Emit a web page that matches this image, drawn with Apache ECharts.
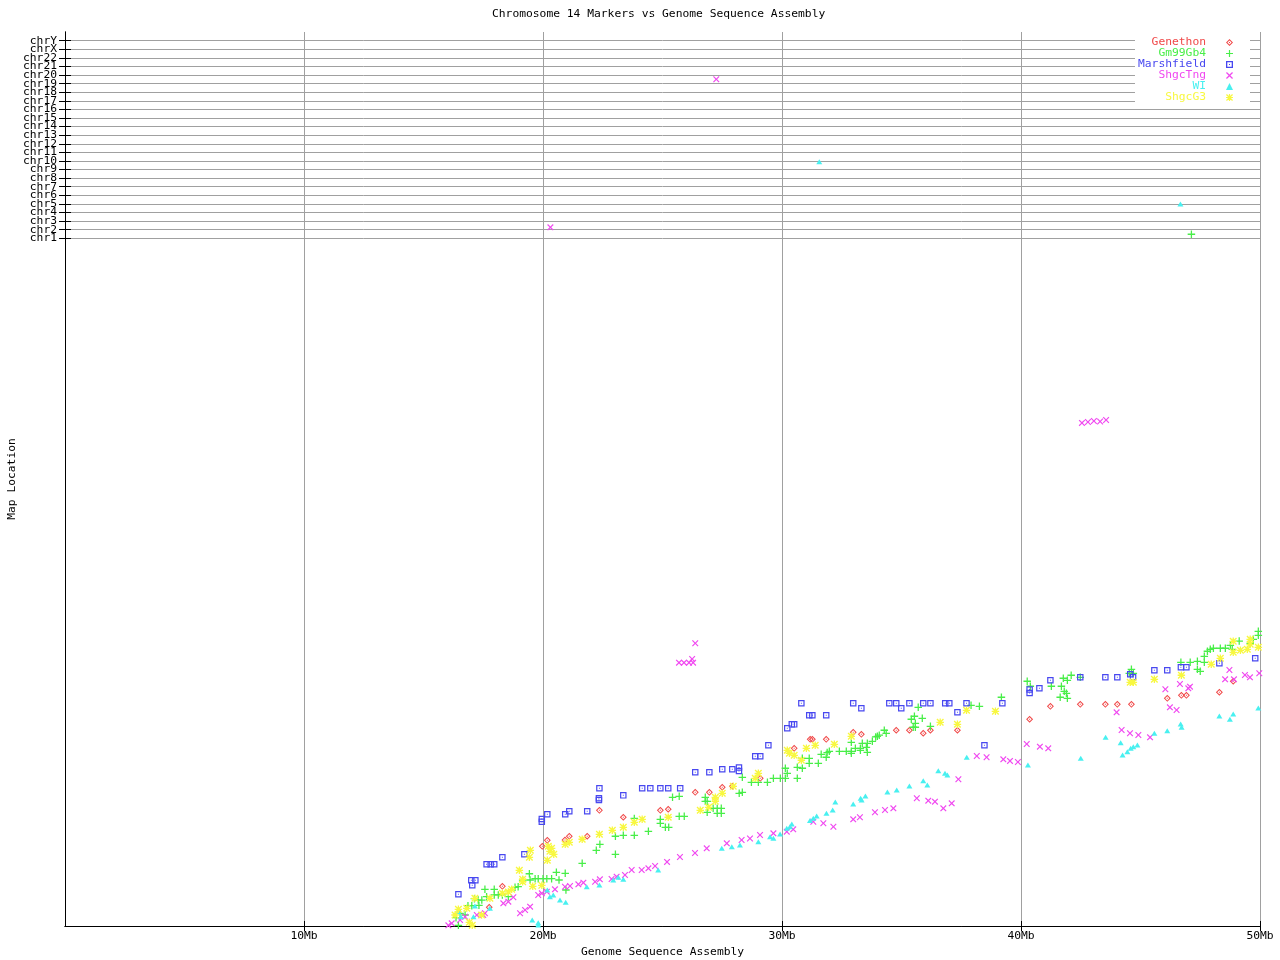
<!DOCTYPE html>
<html>
<head>
<meta charset="utf-8">
<script src="https://cdn.jsdelivr.net/npm/echarts@6/dist/echarts.min.js"></script>
<style>html,body{margin:0;padding:0;background:#fff}#chart{width:1280px;height:960px}</style>
</head>
<body>
<div id="chart"></div>
<script>
// ---- data (x: Mb on genome assembly, y: map location units) ----
const chrNames = ['chr1','chr2','chr3','chr4','chr5','chr6','chr7','chr8','chr9','chr10','chr11','chr12','chr13','chr14','chr15','chr16','chr17','chr18','chr19','chr20','chr21','chr22','chrX','chrY'];
const chrBase = 80;
const yMin = 0, yMax = 104;
const xTickLabels = [10, 20, 30, 40, 50];
const seriesNames = ['Genethon','Gm99Gb4','Marshfield','ShgcTng','WI','ShgcG3'];
const seriesColors = ['#f04848','#48ee48','#4848f0','#f048f0','#48f0f0','#f8f840'];

const genethon = [[17.75,2.18],[18.30,4.62],[19.97,9.27],[20.18,9.97],[20.92,10.0],[21.10,10.44],[21.85,10.44],[22.36,13.46],[23.36,12.65],[24.91,13.46],[25.24,13.58],[26.37,15.55],[26.96,15.55],[27.50,16.14],[27.92,16.25],[29.09,17.18],[30.51,20.67],[31.18,21.72],[31.27,21.72],[31.85,21.72],[32.98,22.53],[33.32,22.30],[34.78,22.77],[35.33,22.77],[35.91,22.42],[36.21,22.77],[37.34,22.77],[40.36,24.05],[41.23,25.56],[42.48,25.79],[43.53,25.79],[44.03,25.79],[44.62,25.79],[46.12,26.49],[46.71,26.84],[46.92,26.84],[48.30,27.19],[48.88,28.47]];

const gm99gb4 = [[16.36,0.97],[16.46,0.08],[16.53,1.48],[16.74,1.28],[16.86,2.36],[17.02,2.36],[17.13,3.18],[17.29,3.02],[17.32,2.41],[17.44,3.02],[17.57,4.27],[17.64,3.41],[17.96,4.27],[17.96,3.61],[18.13,3.61],[18.30,3.61],[18.55,3.41],[18.83,4.50],[18.96,4.57],[19.15,5.35],[19.43,6.08],[19.46,5.35],[19.67,5.50],[19.80,5.50],[20.0,5.50],[20.16,5.50],[20.36,5.50],[20.56,6.25],[20.67,5.35],[20.93,6.13],[20.96,4.19],[21.64,7.29],[22.23,8.81],[22.38,9.50],[23.03,10.44],[23.03,8.34],[23.36,10.55],[23.82,10.55],[23.82,12.51],[24.41,11.02],[24.91,12.41],[24.91,11.95],[25.12,11.48],[25.26,11.48],[25.42,14.97],[25.70,15.09],[25.70,12.76],[25.91,12.76],[26.79,14.97],[26.79,14.51],[26.87,14.51],[26.87,13.23],[27.12,13.69],[27.29,13.69],[27.46,13.69],[27.29,13.11],[27.46,13.11],[28.21,15.44],[28.34,15.55],[28.34,17.30],[28.72,16.72],[29.01,16.72],[29.39,16.72],[29.64,17.18],[29.93,17.18],[30.14,18.35],[30.14,17.18],[30.22,17.76],[30.64,17.18],[30.64,18.46],[30.85,18.35],[30.85,19.51],[31.14,19.51],[31.14,18.93],[31.52,18.93],[31.64,19.97],[31.85,19.63],[31.89,20.18],[31.98,20.32],[32.40,20.32],[32.69,20.32],[32.90,20.32],[32.90,20.09],[32.90,21.37],[33.07,20.67],[33.28,20.44],[33.28,20.67],[33.36,21.25],[33.57,21.25],[33.53,20.79],[33.57,20.21],[33.78,21.49],[33.92,22.0],[33.99,22.07],[34.07,22.2],[34.28,22.77],[34.36,22.42],[35.41,24.05],[35.54,24.40],[35.70,25.44],[35.58,23.58],[35.58,23.12],[35.49,23.12],[35.87,24.16],[36.21,23.23],[37.91,25.67],[38.26,25.56],[39.18,26.61],[40.26,28.47],[40.39,27.89],[41.27,27.89],[41.64,26.61],[41.94,26.49],[41.69,27.89],[41.77,28.82],[41.94,28.58],[42.10,29.17],[41.81,27.30],[41.90,27.07],[42.48,28.93],[44.53,29.40],[44.70,29.40],[44.62,29.86],[46.69,30.68],[47.08,30.68],[47.38,30.79],[47.67,30.68],[47.38,29.86],[47.50,29.63],[47.67,31.37],[47.80,31.96],[47.92,32.19],[48.05,32.31],[48.34,32.31],[48.55,32.31],[48.76,32.65],[48.84,32.19],[49.13,33.15],[49.59,32.89],[49.72,33.35],[49.93,34.28],[49.93,33.82],[47.13,80.47]];

const marshfield = [[16.46,3.69],[17.04,4.75],[17.0,5.32],[17.17,5.32],[17.64,7.18],[17.81,7.18],[17.96,7.18],[18.30,7.99],[19.22,8.34],[19.95,12.45],[19.95,12.13],[20.18,13.0],[20.93,13.0],[21.10,13.35],[21.85,13.35],[22.34,14.86],[22.34,14.66],[22.36,16.02],[23.36,15.2],[24.15,16.02],[24.49,16.02],[24.91,16.02],[25.24,16.02],[25.74,16.02],[26.37,17.88],[26.96,17.88],[27.50,18.23],[27.92,18.23],[28.2,18.43],[28.2,18.03],[28.88,19.74],[29.09,19.74],[29.43,21.02],[30.22,23.0],[30.41,23.46],[30.51,23.46],[30.81,25.91],[31.14,24.51],[31.27,24.51],[31.85,24.51],[32.98,25.91],[33.32,25.33],[34.49,25.91],[34.78,25.91],[34.99,25.33],[35.33,25.91],[35.91,25.91],[36.21,25.91],[36.83,25.91],[37.0,25.91],[37.34,24.86],[37.72,25.91],[38.47,21.02],[39.22,25.91],[40.36,27.51],[40.36,27.11],[40.77,27.65],[41.23,28.58],[42.48,28.93],[43.53,28.93],[44.03,28.93],[44.57,29.28],[44.69,28.93],[45.58,29.75],[46.12,29.75],[46.69,30.10],[46.92,30.10],[48.30,30.56],[49.80,31.14]];

const shgcTng = [[16.04,0.08],[16.18,0.31],[16.53,0.70],[16.74,1.08],[17.23,1.28],[17.50,1.28],[17.57,1.48],[18.34,2.64],[18.55,2.83],[18.76,3.34],[19.04,1.48],[19.25,1.86],[19.46,2.25],[19.80,3.61],[19.95,3.80],[20.16,3.99],[20.50,4.27],[20.92,4.57],[21.13,4.65],[21.48,4.85],[21.69,5.04],[22.18,5.15],[22.38,5.43],[22.87,5.47],[23.08,5.74],[23.43,5.93],[23.71,6.51],[24.13,6.51],[24.41,6.71],[24.69,6.98],[25.19,7.45],[25.73,8.03],[26.36,8.49],[26.85,9.04],[27.69,9.62],[28.31,10.0],[28.66,10.18],[29.08,10.59],[29.64,10.78],[30.20,10.97],[30.47,11.25],[31.31,12.13],[31.73,11.95],[32.15,11.55],[32.98,12.41],[33.26,12.65],[33.89,13.23],[34.31,13.49],[34.66,13.69],[35.64,14.86],[36.12,14.58],[36.40,14.46],[36.75,13.69],[37.10,14.27],[37.38,17.07],[38.15,19.78],[38.56,19.63],[39.26,19.39],[39.54,19.2],[39.87,19.08],[40.24,21.17],[40.79,20.86],[41.14,20.67],[44.00,24.86],[44.21,22.80],[44.56,22.42],[44.91,22.22],[45.40,21.95],[46.04,27.54],[46.23,25.44],[46.51,25.13],[46.65,28.15],[47.0,27.65],[47.07,27.84],[48.54,28.70],[48.72,29.78],[48.91,28.70],[49.37,29.20],[49.58,28.93],[49.97,29.40],[26.37,32.89],[25.69,30.63],[25.90,30.63],[26.11,30.63],[26.28,30.63],[26.24,31.06],[42.55,58.52],[42.80,58.63],[43.05,58.75],[43.31,58.69],[43.56,58.86],[27.25,98.50],[20.31,81.28]];

const wi = [[16.46,1.66],[16.56,1.08],[17.09,1.08],[17.15,2.33],[17.78,2.06],[19.55,0.70],[19.80,0.38],[19.80,0.12],[20.18,4.19],[20.29,3.41],[20.43,3.61],[20.71,3.02],[20.95,2.76],[21.83,4.57],[22.36,4.77],[22.94,5.35],[23.15,5.67],[23.36,5.43],[24.82,6.51],[27.48,9.04],[27.90,9.23],[28.24,9.42],[29.01,9.81],[29.50,10.39],[29.64,10.20],[29.92,10.70],[30.20,11.37],[30.33,11.55],[30.41,11.87],[31.17,12.27],[31.31,12.53],[31.45,12.80],[31.86,13.11],[32.12,13.49],[32.23,14.43],[32.98,14.19],[33.29,14.86],[33.33,14.66],[33.49,15.12],[34.41,15.59],[34.80,15.82],[35.33,16.29],[35.91,16.90],[36.08,16.40],[36.54,18.07],[36.82,17.76],[36.92,17.57],[37.73,19.63],[40.29,18.73],[42.50,19.51],[43.54,21.95],[44.17,21.32],[44.25,19.89],[44.45,20.28],[44.59,20.67],[44.70,20.86],[44.87,21.06],[45.58,22.42],[46.12,22.72],[46.68,23.50],[46.72,23.12],[48.30,24.43],[48.74,24.05],[48.88,24.66],[49.93,25.36],[31.56,88.91],[46.67,83.99]];

const shgcG3 = [[16.32,1.28],[16.46,1.94],[16.81,2.06],[16.92,0.43],[17.04,0.08],[17.15,3.22],[17.43,1.28],[17.78,3.22],[18.30,3.80],[18.55,3.96],[18.69,4.27],[19.01,6.48],[19.15,5.43],[19.15,5.15],[19.43,7.99],[19.47,8.81],[19.57,4.62],[19.95,4.73],[20.18,7.64],[20.22,9.27],[20.36,9.04],[20.29,8.69],[20.45,8.34],[20.93,9.50],[21.10,9.74],[21.64,10.09],[22.36,10.67],[22.90,11.13],[23.36,11.48],[23.82,12.06],[24.15,12.41],[25.24,12.65],[26.58,13.46],[26.93,13.81],[27.21,14.51],[27.21,14.97],[27.50,15.44],[27.96,16.25],[28.88,17.18],[29.01,17.76],[30.22,20.44],[30.31,20.09],[30.51,19.86],[30.81,19.28],[31.02,20.67],[31.39,21.02],[32.19,21.14],[32.90,22.07],[36.62,23.70],[37.34,23.46],[37.72,25.09],[38.93,24.98],[44.57,28.35],[44.70,28.35],[45.58,28.70],[46.71,29.17],[47.96,30.44],[48.34,31.14],[48.88,31.84],[48.88,33.12],[49.18,32.07],[49.47,32.19],[49.59,33.35],[49.59,32.77],[49.93,32.42]];

// ---- symbols ----
const symDiamond = 'path://M3.5,0L7,3.5L3.5,7L0,3.5Z M3.5,1.4L1.4,3.5L3.5,5.6L5.6,3.5Z M3,3h1v1h-1z';
const symPlus = 'path://M2.9,0h1.2v2.9h2.9v1.2h-2.9v2.9h-1.2v-2.9h-2.9v-1.2h2.9z';
const symSquare = 'path://M0,0h7v7h-7z M1.3,1.3v4.4h4.4v-4.4z M3,3h1v1h-1z';
const symCross = 'path://M0,0.9L0.9,0L3.5,2.6L6.1,0L7,0.9L4.4,3.5L7,6.1L6.1,7L3.5,4.4L0.9,7L0,6.1L2.6,3.5Z';
const symTri = 'triangle';
const symStar = 'path://M2.9,0h1.2v2.9h2.9v1.2h-2.9v2.9h-1.2v-2.9h-2.9v-1.2h2.9z M0,0.9L0.9,0L3.5,2.6L6.1,0L7,0.9L4.4,3.5L7,6.1L6.1,7L3.5,4.4L0.9,7L0,6.1L2.6,3.5Z';

const FONT = '"DejaVu Sans Mono", "Liberation Mono", monospace';
const FS = 11.3;

const datasets = [genethon, gm99gb4, marshfield, shgcTng, wi, shgcG3];
const symbols = [symDiamond, symPlus, symSquare, symCross, symTri, symStar];
const sizes = [7, 7.5, 6.5, 6.5, [6,5], 7.5];

const chrValues = chrNames.map((n, i) => chrBase + i);
const chrLabelValues = [yMin].concat(chrValues, [yMax]);
const chrMap = {};
chrNames.forEach((n, i) => { chrMap[chrBase + i] = n; });

const chart = echarts.init(document.getElementById('chart'), null, {renderer: 'canvas'});

const axisLineStyle = {color: '#000', width: 1};
const option = {
  animation: false,
  backgroundColor: '#fff',
  title: {
    text: 'Chromosome 14 Markers vs Genome Sequence Assembly',
    left: 492, top: 9, padding: 0,
    textStyle: {fontFamily: FONT, fontSize: FS, fontWeight: 'normal', color: '#000'}
  },
  legend: {
    orient: 'vertical', right: 30, top: 35, align: 'right',
    itemWidth: 7, itemHeight: 7, itemGap: 0,
    backgroundColor: '#fff', padding: [2, 17, 2, 3],
    selectedMode: false,
    textStyle: {fontFamily: FONT, fontSize: FS, lineHeight: 11, padding: [0, 15, 0, 0]},
    data: seriesNames.map((n, i) => ({name: n, icon: symbols[i], textStyle: {color: seriesColors[i]}}))
  },
  grid: {left: 65, right: 20, top: 32, bottom: 34, containLabel: false, outerBoundsMode: 'none'},
  xAxis: [{
    type: 'value', position: 'bottom', min: 0, max: 50, interval: 10,
    name: 'Genome Sequence Assembly', nameLocation: 'middle', nameGap: 21,
    nameTextStyle: {fontFamily: FONT, fontSize: FS, color: '#000'},
    axisLine: {show: true, lineStyle: axisLineStyle},
    axisTick: {show: true, inside: true, length: 5, lineStyle: axisLineStyle, customValues: xTickLabels},
    axisLabel: {fontFamily: FONT, fontSize: FS, color: '#000', margin: 5,
      showMinLabel: true, showMaxLabel: true,
      customValues: xTickLabels, formatter: v => v + 'Mb'},
    splitLine: {show: true, lineStyle: {color: '#a0a0a0', width: 1}}
  }, {
    type: 'value', position: 'top', min: 0, max: 50, interval: 10,
    axisLine: {show: true, lineStyle: axisLineStyle},
    axisTick: {show: true, inside: true, length: 5, lineStyle: axisLineStyle, customValues: xTickLabels},
    axisLabel: {show: false}, splitLine: {show: false}
  }],
  yAxis: [{
    type: 'value', position: 'left', min: yMin, max: yMax,
    name: 'Map Location', nameLocation: 'middle', nameGap: 47, nameRotate: 90,
    nameMoveOverlap: false,
    nameTextStyle: {fontFamily: FONT, fontSize: FS, color: '#000'},
    axisLine: {show: true, lineStyle: axisLineStyle},
    axisTick: {show: true, inside: true, length: 6, lineStyle: axisLineStyle, customValues: chrValues},
    axisLabel: {fontFamily: FONT, fontSize: FS, color: '#000', margin: 8, lineHeight: 8,
      showMinLabel: false, showMaxLabel: false, hideOverlap: false,
      customValues: chrLabelValues, formatter: v => chrMap[v] || ''},
    splitLine: {show: true, lineStyle: {color: '#a0a0a0', width: 1}}
  }, {
    type: 'value', position: 'right', min: yMin, max: yMax,
    axisLine: {show: true, lineStyle: axisLineStyle},
    axisTick: {show: true, inside: true, length: 6, lineStyle: axisLineStyle, customValues: chrValues},
    axisLabel: {show: false}, splitLine: {show: false}
  }],
  series: seriesNames.map((n, i) => ({
    name: n, type: 'scatter', xAxisIndex: 0, yAxisIndex: 0,
    data: datasets[i], symbol: symbols[i], symbolSize: sizes[i],
    itemStyle: {color: seriesColors[i], opacity: 1},
    emphasis: {disabled: true}, silent: true
  }))
};
chart.setOption(option);
</script>
</body>
</html>
